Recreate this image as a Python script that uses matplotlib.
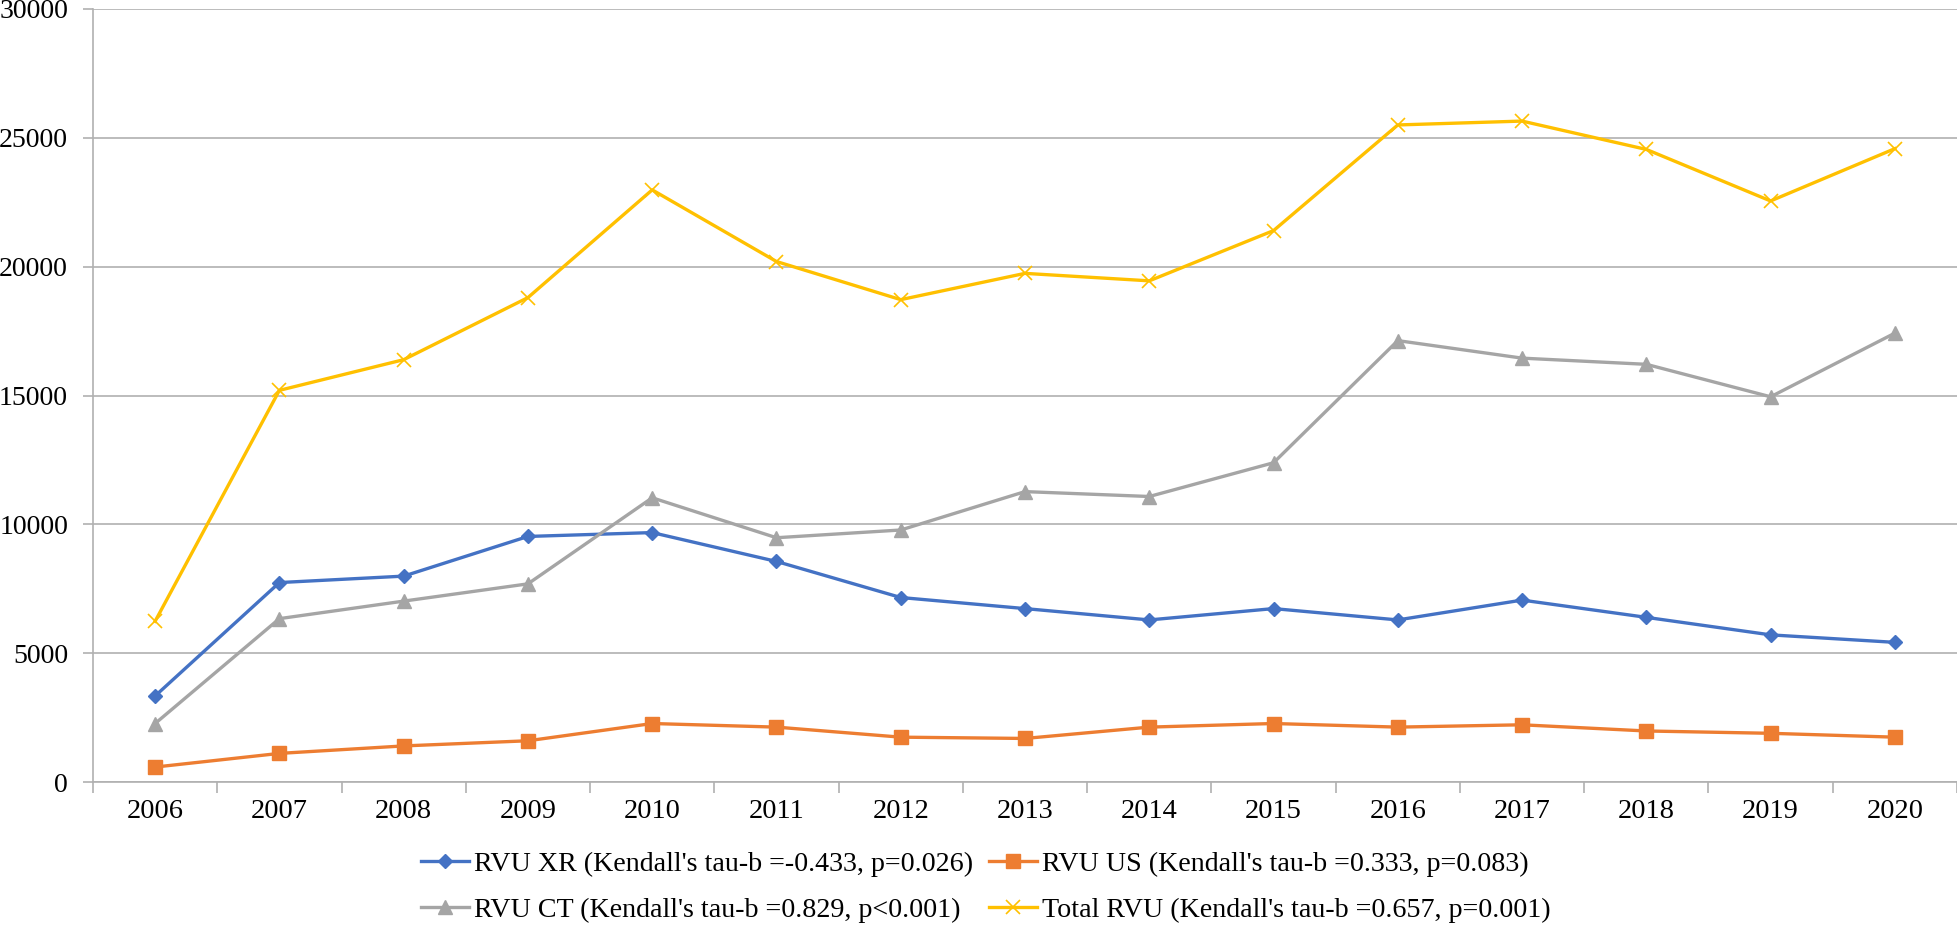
import matplotlib
matplotlib.use("Agg")
import matplotlib.pyplot as plt
import numpy as np

years = [str(y) for y in range(2006, 2021)]
rvu_xr = [3340, 7740, 7990, 9530, 9680, 8560, 7160, 6730, 6290, 6730, 6290, 7060, 6390, 5710, 5420]
rvu_us = [580, 1110, 1400, 1600, 2270, 2130, 1740, 1690, 2130, 2270, 2130, 2220, 1980, 1890, 1740]
rvu_ct = [2270, 6340, 7020, 7690, 11030, 9480, 9780, 11270, 11080, 12390, 17130, 16450, 16210, 14950, 17420]
rvu_total = [6240, 15200, 16390, 18800, 22980, 20200, 18720, 19740, 19450, 21400, 25500, 25650, 24550, 22550, 24580]

labels = [
    "RVU XR (Kendall's tau-b =-0.433, p=0.026)",
    "RVU US (Kendall's tau-b =0.333, p=0.083)",
    "RVU CT (Kendall's tau-b =0.829, p<0.001)",
    "Total RVU (Kendall's tau-b =0.657, p=0.001)",
]
y_ticks = [0, 5000, 10000, 15000, 20000, 25000, 30000]

plt.rcParams['font.family'] = ['Liberation Serif', 'DejaVu Serif']
fig = plt.figure(figsize=(19.58, 9.26), dpi=100)
ax = fig.add_axes([93/1958, 1-782/926, (1957-93)/1958, (782-9)/926])

x = np.arange(len(years))
lw = 2.4
l1, = ax.plot(x, rvu_xr, color='#4472C4', lw=lw, marker='D', ms=7.5, label=labels[0], zorder=3)
l2, = ax.plot(x, rvu_us, color='#ED7D31', lw=lw, marker='s', ms=9.5, label=labels[1], zorder=3)
l3, = ax.plot(x, rvu_ct, color='#A5A5A5', lw=lw, marker='^', ms=10.5, label=labels[2], zorder=3)
l4, = ax.plot(x, rvu_total, color='#FFC000', lw=lw, marker='x', ms=10, mew=1.2, label=labels[3], zorder=3)

ax.set_xlim(-0.5, len(years)-0.5)
ax.set_ylim(0, 30000)
ax.set_yticks(y_ticks)
ax.set_yticklabels([str(v) for v in y_ticks])
ax.set_xticks(x)
ax.set_xticklabels(years)
ax.set_xticks(np.arange(-0.5, len(years), 1.0), minor=True)
ax.tick_params(axis='x', which='major', length=0, pad=12, labelsize=20.5)
ax.tick_params(axis='x', which='minor', length=8, color='#B0B0B0', width=1.2)
ax.tick_params(axis='y', which='major', length=7, color='#B0B0B0', width=1.2, pad=11, labelsize=20)
ax.yaxis.grid(True, color='#B0B0B0', lw=1.2, zorder=0)
for s in ['top', 'right']:
    ax.spines[s].set_visible(False)
for s in ['left', 'bottom']:
    ax.spines[s].set_color('#B0B0B0')
    ax.spines[s].set_linewidth(1.2)
ax.set_axisbelow(True)

fig.legend(handles=[l1, l3, l2, l4], loc='center', bbox_to_anchor=(986/1958, 1-887/926),
           ncol=2, frameon=False, fontsize=20.2, handlelength=1.7, handletextpad=0.2,
           columnspacing=0.55, labelspacing=0.72)

fig.savefig('out.png', dpi=100)
